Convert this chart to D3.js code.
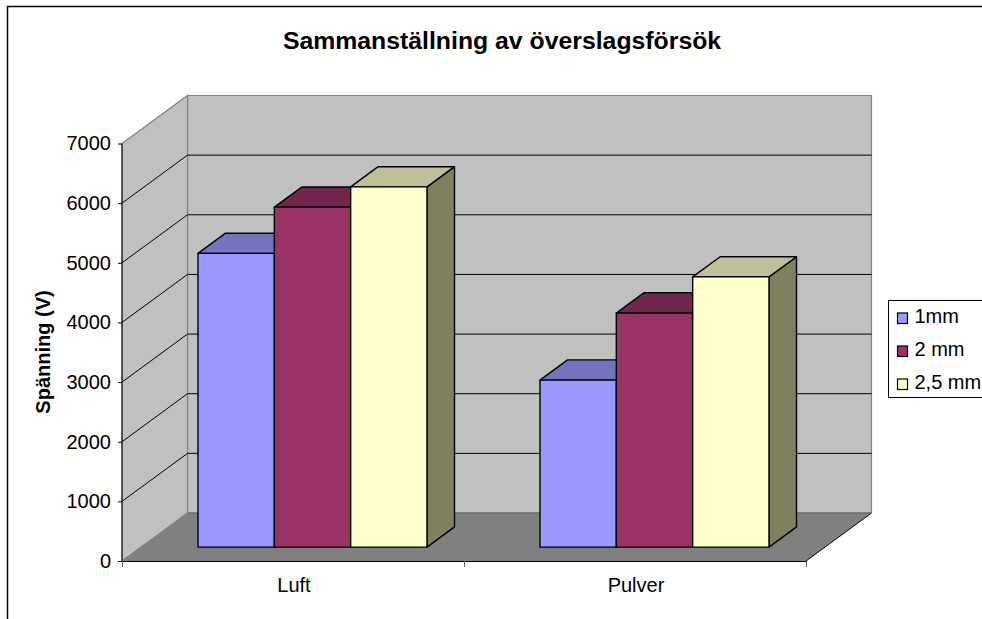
<!DOCTYPE html>
<html><head><meta charset="utf-8">
<script src="https://cdn.jsdelivr.net/npm/d3@7"></script>
<style>html,body{margin:0;padding:0;background:#fff}svg{display:block}text{font-family:"Liberation Sans",Arial,sans-serif;fill:#000}</style>
</head><body><svg id="c" width="982" height="619"></svg>
<script>
const categories = ["Luft", "Pulver"];
const seriesNames = ["1mm", "2 mm", "2,5 mm"];
const values1mm = [4925, 2800];
const values2mm = [5700, 3925];
const values25mm = [6040, 4530];
const seriesValues = [values1mm, values2mm, values25mm];
const yTicks = [0, 1000, 2000, 3000, 4000, 5000, 6000, 7000];
const frontColors = ["#9999FF", "#993366", "#FFFFCC"];
const topColors = ["#7373BF", "#73264D", "#BFBF99"];
const sideColors = ["#5C5C99", "#5C1F3D", "#80805F"];
const titleText = "Sammanställning av överslagsförsök";
const yTitle = "Spänning (V)";

const svg = d3.select("#c");
const x = d3.scaleBand().domain(categories).range([122, 806]);
const y = d3.scaleLinear().domain([0, 7000]).range([561, 143.5]);
const inner = d3.scaleBand().domain(d3.range(3)).range([0, 229]);
const zX = d3.scaleLinear().domain([0, 1]).range([0, 65.5]);
const zY = d3.scaleLinear().domain([0, 1]).range([0, -48]);
const pt = (px, v, z) => [px + zX(z), y(v) + zY(z)];
const line = d3.line();
const poly = pts => line(pts) + "Z";
const [x0, x1] = x.range();
const vMax = y.domain()[1];

svg.append("path").attr("d", "M7.5 619V6.5H982").attr("fill", "none").attr("stroke", "#000").attr("stroke-width", 1.5);

svg.append("path").attr("d", poly([pt(x0,0,1), pt(x1,0,1), pt(x1,vMax,1), pt(x0,vMax,1)])).attr("fill", "#C0C0C0").attr("stroke", "#808080").attr("stroke-width", 1.2);
svg.append("path").attr("d", poly([pt(x0,0,0), pt(x0,0,1), pt(x0,vMax,1), pt(x0,vMax,0)])).attr("fill", "#C0C0C0").attr("stroke", "#808080").attr("stroke-width", 1.2);
svg.append("path").attr("d", poly([pt(x0,0,0), pt(x1,0,0), pt(x1,0,1), pt(x0,0,1)])).attr("fill", "#808080");
svg.append("path").attr("d", line([pt(x1,0,0), pt(x1,0,1)])).attr("stroke", "#000").attr("fill", "none");

yTicks.slice(1, -1).forEach(v => {
  svg.append("path").attr("d", line([pt(x0,v,0), pt(x0,v,1), pt(x1,v,1)])).attr("fill", "none").attr("stroke", "#000").attr("stroke-width", 1);
});
svg.append("path").attr("d", line([pt(x0,0,1), pt(x1,0,1)])).attr("stroke", "#606060").attr("stroke-width", 1.2);

const yAxis = d3.axisLeft(y).tickValues(yTicks).tickSize(4).tickPadding(7).tickFormat(d3.format("d"));
const ga = svg.append("g").attr("transform", "translate(122,0)").call(yAxis);
ga.select(".domain").attr("d", `M0 ${y(vMax)}V${y(0)}`).attr("stroke", "#000");
ga.selectAll("text").attr("font-size", 20).style("font-family", '"Liberation Sans",Arial,sans-serif');
svg.append("line").attr("x1", x0).attr("x2", x1).attr("y1", y(0)+.5).attr("y2", y(0)+.5).attr("stroke", "#000").attr("stroke-width", 1.2);
const xTickPos = [x0, x1 - x.step(), x1];
xTickPos.forEach(p => svg.append("line").attr("x1", p+.5).attr("x2", p+.5).attr("y1", y(0)).attr("y2", y(0)+6).attr("stroke", "#606060"));
categories.forEach(c => svg.append("text").attr("x", x(c) + x.bandwidth()/2 + 1).attr("y", 592).attr("text-anchor", "middle").attr("font-size", 20).text(c));

const zA = 0.29, zB = 0.71;
categories.forEach((c, ci) => {
  const bx = x(c) + x.bandwidth()/2 - 114;
  seriesValues.forEach((vals, si) => {
    const a = bx + inner(si), b = a + inner.bandwidth(), v = vals[ci];
    const g = svg.append("g").attr("stroke", "#000").attr("stroke-width", 1.4).attr("stroke-linejoin", "round");
    g.append("path").attr("d", poly([pt(b,0,zA), pt(b,0,zB), pt(b,v,zB), pt(b,v,zA)])).attr("fill", sideColors[si]);
    g.append("path").attr("d", poly([pt(a,v,zA), pt(b,v,zA), pt(b,v,zB), pt(a,v,zB)])).attr("fill", topColors[si]);
    g.append("path").attr("d", poly([pt(a,0,zA), pt(b,0,zA), pt(b,v,zA), pt(a,v,zA)])).attr("fill", frontColors[si]);
  });
});

svg.append("text").attr("x", 502).attr("y", 49).attr("text-anchor", "middle").attr("font-size", 24.8).attr("font-weight", "bold").text(titleText);
svg.append("text").attr("transform", "translate(50,352) rotate(-90)").attr("text-anchor", "middle").attr("font-size", 20).attr("font-weight", "bold").text(yTitle);

svg.append("rect").attr("x", 888.5).attr("y", 300.5).attr("width", 100).attr("height", 97).attr("fill", "#fff").attr("stroke", "#000");
const legendY = d3.scalePoint().domain(seriesNames).range([318, 384]);
seriesNames.forEach((n, i) => {
  svg.append("rect").attr("x", 897.5).attr("y", legendY(n) - 5).attr("width", 10).attr("height", 10.5).attr("fill", frontColors[i]).attr("stroke", "#000").attr("stroke-width", 1.2);
  svg.append("text").attr("x", 914.5).attr("y", legendY(n) + 5).attr("font-size", 20).text(n);
});
</script></body></html>
